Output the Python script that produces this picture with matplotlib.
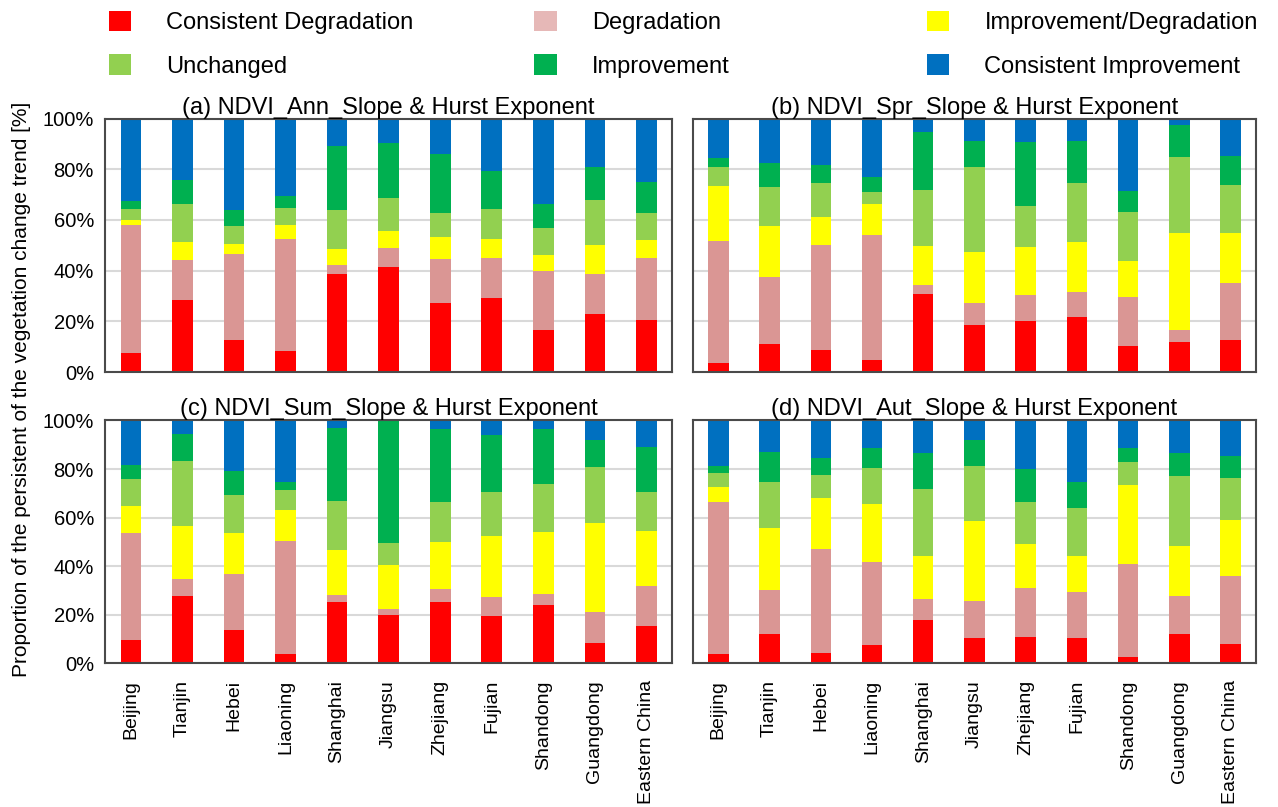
import numpy as np
import matplotlib
matplotlib.use("Agg")
import matplotlib.pyplot as plt
from matplotlib.patches import Patch

plt.rcParams['font.family'] = ['Liberation Sans', 'DejaVu Sans']

regions = ['Beijing', 'Tianjin', 'Hebei', 'Liaoning', 'Shanghai', 'Jiangsu',
           'Zhejiang', 'Fujian', 'Shandong', 'Guangdong', 'Eastern China']

classes = ['Consistent Degradation', 'Degradation', 'Improvement/Degradation',
           'Unchanged', 'Improvement', 'Consistent Improvement']
colors = ['#FF0000', '#DA9694', '#FFFF00', '#92D050', '#00B050', '#0070C0']
legend_colors = ['#FF0000', '#E6B8B7', '#FFFF00', '#92D050', '#00B050', '#0070C0']

# shares [%] per class, (a) annual
ann_cons_deg = [7.7, 28.5, 12.8, 8.2, 38.7, 41.6, 27.4, 29.4, 16.5, 22.8, 20.7]
ann_deg = [50.3, 15.8, 33.9, 44.4, 3.4, 7.3, 17.1, 15.6, 23.5, 15.7, 24.4]
ann_imp_deg = [1.8, 7.2, 4.0, 5.6, 6.3, 6.9, 8.7, 7.4, 6.3, 11.6, 7.0]
ann_unch = [4.6, 14.9, 7.1, 6.6, 15.6, 12.9, 9.7, 12.0, 10.6, 17.8, 10.8]
ann_imp = [3.0, 9.3, 6.3, 4.5, 25.1, 21.7, 23.0, 14.8, 9.6, 13.2, 12.2]
ann_cons_imp = [32.6, 24.3, 35.9, 30.7, 10.9, 9.6, 14.1, 20.8, 33.5, 18.9, 24.9]

# (b) spring
spr_cons_deg = [3.7, 11.2, 8.5, 4.6, 30.9, 18.6, 20.1, 21.8, 10.4, 11.8, 12.7]
spr_deg = [48.0, 26.4, 41.7, 49.5, 3.5, 8.6, 10.4, 9.9, 19.3, 4.7, 22.5]
spr_imp_deg = [21.9, 20.0, 11.0, 12.4, 15.5, 20.1, 18.8, 19.8, 14.1, 38.2, 19.5]
spr_unch = [7.5, 15.3, 13.3, 4.5, 21.8, 33.7, 16.2, 22.9, 19.4, 30.2, 19.1]
spr_imp = [3.4, 9.4, 7.3, 6.0, 23.0, 10.0, 25.3, 16.7, 8.1, 12.6, 11.5]
spr_cons_imp = [15.5, 17.7, 18.2, 23.0, 5.3, 9.0, 9.2, 8.9, 28.7, 2.5, 14.7]

# (c) summer
sum_cons_deg = [9.5, 27.9, 13.6, 3.7, 25.2, 20.1, 25.3, 19.5, 24.1, 8.3, 15.5]
sum_deg = [44.1, 6.8, 23.0, 46.6, 2.9, 2.2, 5.2, 7.9, 4.5, 12.9, 16.3]
sum_imp_deg = [11.2, 21.8, 17.2, 13.0, 18.7, 18.1, 19.6, 25.0, 25.5, 36.7, 22.5]
sum_unch = [11.0, 26.6, 15.7, 8.2, 20.1, 9.0, 16.3, 18.2, 19.8, 22.8, 16.1]
sum_imp = [6.0, 11.5, 9.5, 3.2, 29.8, 50.3, 29.9, 23.6, 22.4, 11.3, 18.7]
sum_cons_imp = [18.2, 5.4, 21.0, 25.3, 3.3, 0.3, 3.7, 5.8, 3.7, 8.0, 10.9]

# (d) autumn
aut_cons_deg = [3.7, 11.9, 4.2, 7.4, 17.7, 10.3, 10.7, 10.4, 2.7, 11.9, 7.9]
aut_deg = [62.6, 18.1, 42.9, 34.4, 8.9, 15.3, 20.3, 18.8, 38.1, 15.8, 28.1]
aut_imp_deg = [6.2, 25.9, 21.0, 24.0, 17.8, 33.2, 18.2, 14.8, 32.6, 20.7, 23.2]
aut_unch = [5.7, 18.9, 9.4, 14.5, 27.5, 22.4, 17.4, 20.0, 9.5, 28.6, 17.1]
aut_imp = [3.2, 12.2, 6.9, 8.3, 14.7, 10.6, 13.5, 10.7, 5.7, 9.8, 8.9]
aut_cons_imp = [18.6, 13.0, 15.6, 11.4, 13.4, 8.2, 19.9, 25.3, 11.4, 13.2, 14.8]

panels = [
    ('(a) NDVI_Ann_Slope & Hurst Exponent',
     [ann_cons_deg, ann_deg, ann_imp_deg, ann_unch, ann_imp, ann_cons_imp]),
    ('(b) NDVI_Spr_Slope & Hurst Exponent',
     [spr_cons_deg, spr_deg, spr_imp_deg, spr_unch, spr_imp, spr_cons_imp]),
    ('(c) NDVI_Sum_Slope & Hurst Exponent',
     [sum_cons_deg, sum_deg, sum_imp_deg, sum_unch, sum_imp, sum_cons_imp]),
    ('(d) NDVI_Aut_Slope & Hurst Exponent',
     [aut_cons_deg, aut_deg, aut_imp_deg, aut_unch, aut_imp, aut_cons_imp]),
]

fig = plt.figure(figsize=(12.78, 8.07), dpi=100)
rects = [
    [0.0822, 0.539, 0.4438, 0.314],
    [0.542, 0.539, 0.441, 0.314],
    [0.0822, 0.178, 0.4438, 0.301],
    [0.542, 0.178, 0.441, 0.301],
]

x = np.arange(len(regions))
for i, ((title, series), rect) in enumerate(zip(panels, rects)):
    ax = fig.add_axes(rect)
    bottom = np.zeros(len(regions))
    for vals, c in zip(series, colors):
        vals = np.array(vals)
        ax.bar(x, vals, width=0.4, bottom=bottom, color=c, edgecolor='none')
        bottom += vals
    ax.set_xlim(-0.5, len(regions) - 0.5)
    ax.set_ylim(0, 100)
    ax.set_yticks(np.arange(0, 101, 20))
    ax.set_axisbelow(True)
    ax.yaxis.grid(True, color='#D9D9D9', lw=1.5)
    for s in ax.spines.values():
        s.set_color('#4a4a4a')
        s.set_linewidth(1.5)
    ax.set_xticks(x)
    ax.tick_params(axis='y', length=0, pad=8)
    ax.tick_params(axis='x', length=0, pad=12)
    if i % 2 == 0:
        ax.set_yticklabels([f'{v}%' for v in range(0, 101, 20)], fontsize=14.5)
    else:
        ax.set_yticklabels([])
    if i >= 2:
        ax.set_xticklabels(regions, rotation=90, fontsize=14)
    else:
        ax.set_xticklabels([])
    ax.set_title(title, fontsize=17, pad=3)

fig.text(0.017, 0.517, 'Proportion of the persistent of the vegetation change trend [%]',
         rotation=90, va='center', ha='center', fontsize=15)

# legend: three columns, two rows (row-wise order)
col_x = [0.085, 0.418, 0.725]
for k, cx in enumerate(col_x):
    idx = [k, k + 3]
    handles = [Patch(facecolor=legend_colors[j], edgecolor='none') for j in idx]
    fig.legend(handles, [classes[j] for j in idx], loc='upper left',
               bbox_to_anchor=(cx, 1 - 11 / 807), frameon=False, fontsize=17,
               handlelength=0.95, handleheight=0.95, handletextpad=1.5,
               labelspacing=0.85, borderpad=0, borderaxespad=0)

fig.savefig('out.png', dpi=100)
